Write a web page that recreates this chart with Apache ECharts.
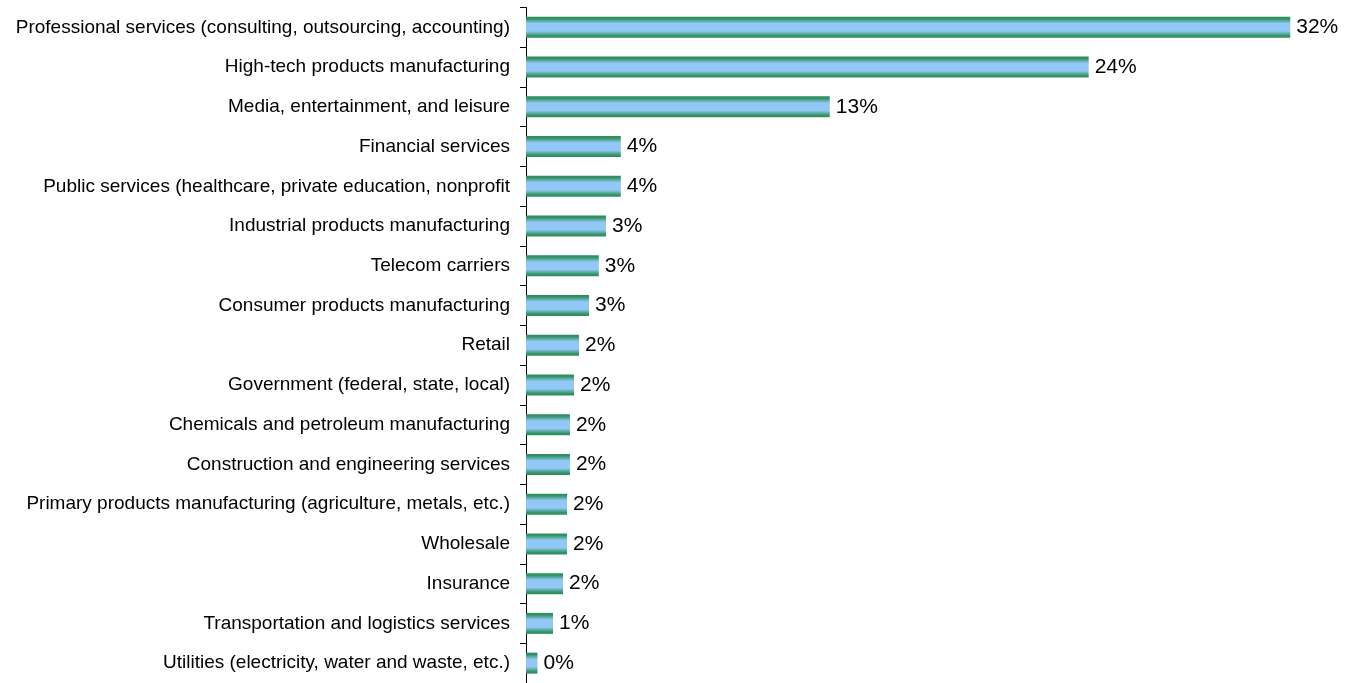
<!DOCTYPE html>
<html>
<head>
<meta charset="utf-8">
<script src="https://cdn.jsdelivr.net/npm/echarts@6/dist/echarts.min.js"></script>
<style>
  html, body { margin: 0; padding: 0; background: #ffffff; }
  #chart { width: 1362px; height: 683px; }
</style>
</head>
<body>
<div id="chart"></div>
<script>
// Industries, listed top to bottom
const industries = [
  'Professional services (consulting, outsourcing, accounting)',
  'High-tech products manufacturing',
  'Media, entertainment, and leisure',
  'Financial services',
  'Public services (healthcare, private education, nonprofit',
  'Industrial products manufacturing',
  'Telecom carriers',
  'Consumer products manufacturing',
  'Retail',
  'Government (federal, state, local)',
  'Chemicals and petroleum manufacturing',
  'Construction and engineering services',
  'Primary products manufacturing (agriculture, metals, etc.)',
  'Wholesale',
  'Insurance',
  'Transportation and logistics services',
  'Utilities (electricity, water and waste, etc.)'
];

// Share of respondents, percent
const shares = [32.0, 23.56, 12.72, 3.97, 3.97, 3.35, 3.05, 2.64, 2.22, 2.01, 1.84, 1.84, 1.72, 1.72, 1.55, 1.13, 0.48];

const chart = echarts.init(document.getElementById('chart'), null, { renderer: 'canvas' });

// green edges fading into a light blue core
const barFill = new echarts.graphic.LinearGradient(0, 0, 0, 1, [
  { offset: 0, color: '#2e8c5c' },
  { offset: 0.1, color: '#339466' },
  { offset: 0.32, color: '#92c8f6' },
  { offset: 0.68, color: '#92c8f6' },
  { offset: 0.9, color: '#339466' },
  { offset: 1, color: '#2e8c5c' }
]);

chart.setOption({
  animation: false,
  backgroundColor: '#ffffff',
  grid: { left: 526, right: 24, top: 7.5, height: 679, containLabel: false },
  xAxis: {
    type: 'value',
    min: 0,
    max: 34,
    show: false
  },
  yAxis: {
    type: 'category',
    inverse: true,
    data: industries,
    axisLine: { show: true, lineStyle: { color: '#000000', width: 1 } },
    axisTick: { show: true, length: 6, lineStyle: { color: '#000000' } },
    axisLabel: {
      margin: 16,
      color: '#000000',
      fontFamily: 'Liberation Sans Narrow, Liberation Sans, Arial, sans-serif',
      fontSize: 19
    },
    splitLine: { show: false }
  },
  series: [{
    type: 'bar',
    data: shares,
    barWidth: 21,
    itemStyle: { color: barFill },
    label: {
      show: true,
      position: 'right',
      distance: 6,
      color: '#000000',
      fontFamily: 'Liberation Sans, Arial, sans-serif',
      fontSize: 21,
      formatter: p => Math.round(p.value) + '%'
    }
  }]
});
</script>
</body>
</html>
